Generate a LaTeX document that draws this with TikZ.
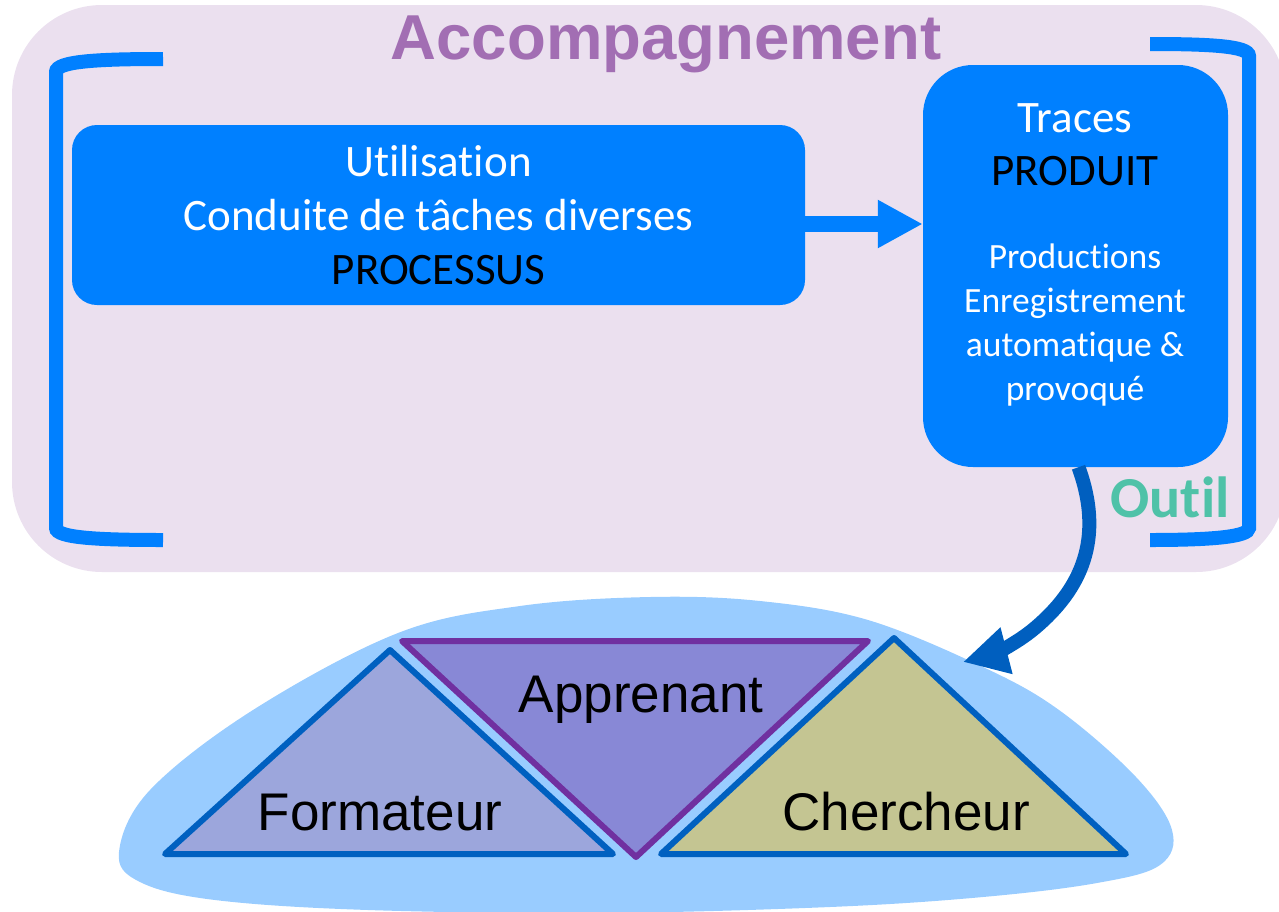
\documentclass[tikz,border=0pt]{standalone}
\usepackage{fontspec}
\setmainfont{Carlito}[Ligatures = NoCommon]
\newfontfamily\arialfont{Liberation Sans}
\usetikzlibrary{arrows.meta,positioning}
\definecolor{accbg}{HTML}{EBE0EF}
\definecolor{boxblue}{HTML}{0080FF}
\definecolor{accpurple}{HTML}{A26EB3}
\definecolor{outilgreen}{HTML}{4FC2A8}
\definecolor{darkarrow}{HTML}{005FBF}
\definecolor{blobblue}{HTML}{99CCFF}
\definecolor{formfill}{HTML}{9CA6DC}
\definecolor{appfill}{HTML}{8888D6}
\definecolor{cherfill}{HTML}{C4C592}
\definecolor{triedge}{HTML}{0060C0}
\definecolor{appedge}{HTML}{7030A0}

\begin{document}
\begin{tikzpicture}[x = 1pt, y = -1pt,
  box/.style = {fill = boxblue, text = white, align = center, inner sep = 0pt},
  bigtxt/.style = {font = \fontsize{45}{54}\selectfont, anchor = base},
  smalltxt/.style = {font = \fontsize{35.5}{44}\selectfont, text = white, anchor = base},
  bracket/.style = {draw = boxblue, line width = 14pt},
  tri/.style = {draw = triedge, line width = 6pt, line join = round},
  trilabel/.style = {font = \arialfont\fontsize{53}{60}\selectfont, anchor = base}]
	\useasboundingbox (0,0) rectangle (1279,911);
	\fill[accbg, rounded corners = 90pt] (12,5) rectangle (1286,572);
	\node[font = \arialfont\bfseries\fontsize{63.5}{70}\selectfont, text = accpurple, anchor = base] (title) at (666,59) {Accompagnement};
	\draw[bracket] (163,59) .. controls (100,59) and (56,61) .. (56,72) -- (56,528) .. controls (56,538) and (100,540) .. (163,540);
	\draw[bracket] (1150,44) .. controls (1210,44) and (1249,46) .. (1249,56) -- (1249,528) .. controls (1249,537) and (1210,540) .. (1150,540);
	\node[font = \bfseries\fontsize{58}{60}\selectfont, text = outilgreen, anchor = base] (outil) at (1170,517) {Outil};
	% usage and traces
	\node[box, rounded corners = 25pt, minimum width = 733pt, minimum height = 180pt, font = \fontsize{45}{54}\selectfont] (proc) at (438.5,215) {Utilisation\\ Conduite de tâches diverses\\ \textcolor{black}{PROCESSUS}};
	\node[box, rounded corners = 50pt, minimum width = 305pt, minimum height = 402pt] (prod) at (1075.5,266) {};
	\node[bigtxt, text = white] (traces) at (1075,132) {Traces};
	\node[bigtxt, text = black] (produit) at (1075,185) {PRODUIT};
	\node[smalltxt] (l1) at (1075,268) {Productions};
	\node[smalltxt] (l2) at (1075,312) {Enregistrement};
	\node[smalltxt] (l3) at (1075,356) {automatique \&};
	\node[smalltxt] (l4) at (1075,400) {provoqué};
	\draw[boxblue, line width = 16pt, -{Triangle[length = 45pt, width = 45pt]}] ([yshift = -9pt]proc.east) -- ([yshift = -9pt]proc.east -| prod.west);
	% actors
	\fill[blobblue] plot[smooth cycle, tension = 0.6] coordinates {(119,852) (150,790) (253,710) (398,633) (520,606) (650,597) (760,601) (868,620) (983,667) (1059,710) (1136,777) (1172,830) (1160,865) (1097,883) (983,897) (830,907) (600,913) (368,910) (215,900) (140,882)};
	\coordinate (tip) at (963,662);
	\draw[darkarrow, line width = 14pt, -{Triangle[length = 45pt, width = 45pt]}] ([xshift = 3pt]prod.south) .. controls (1105,540) and (1080,590) .. (1035,628) .. controls (1015,645) and (990,655) .. (tip);
	\draw[tri, fill = formfill] (165,854) -- (390,650) -- (613,854) -- cycle;
	\draw[tri, draw = appedge, fill = appfill] (402,641) -- (868,641) -- (636,857) -- cycle;
	\draw[tri, fill = cherfill] (661,854) -- (894,638) -- (1126,854) -- cycle;
	\node[trilabel] (form) at (380,830) {Formateur};
	\node[trilabel] (app) at (641,712) {Apprenant};
	\node[trilabel] (cher) at (906,830) {Chercheur};
\end{tikzpicture}
\end{document}
